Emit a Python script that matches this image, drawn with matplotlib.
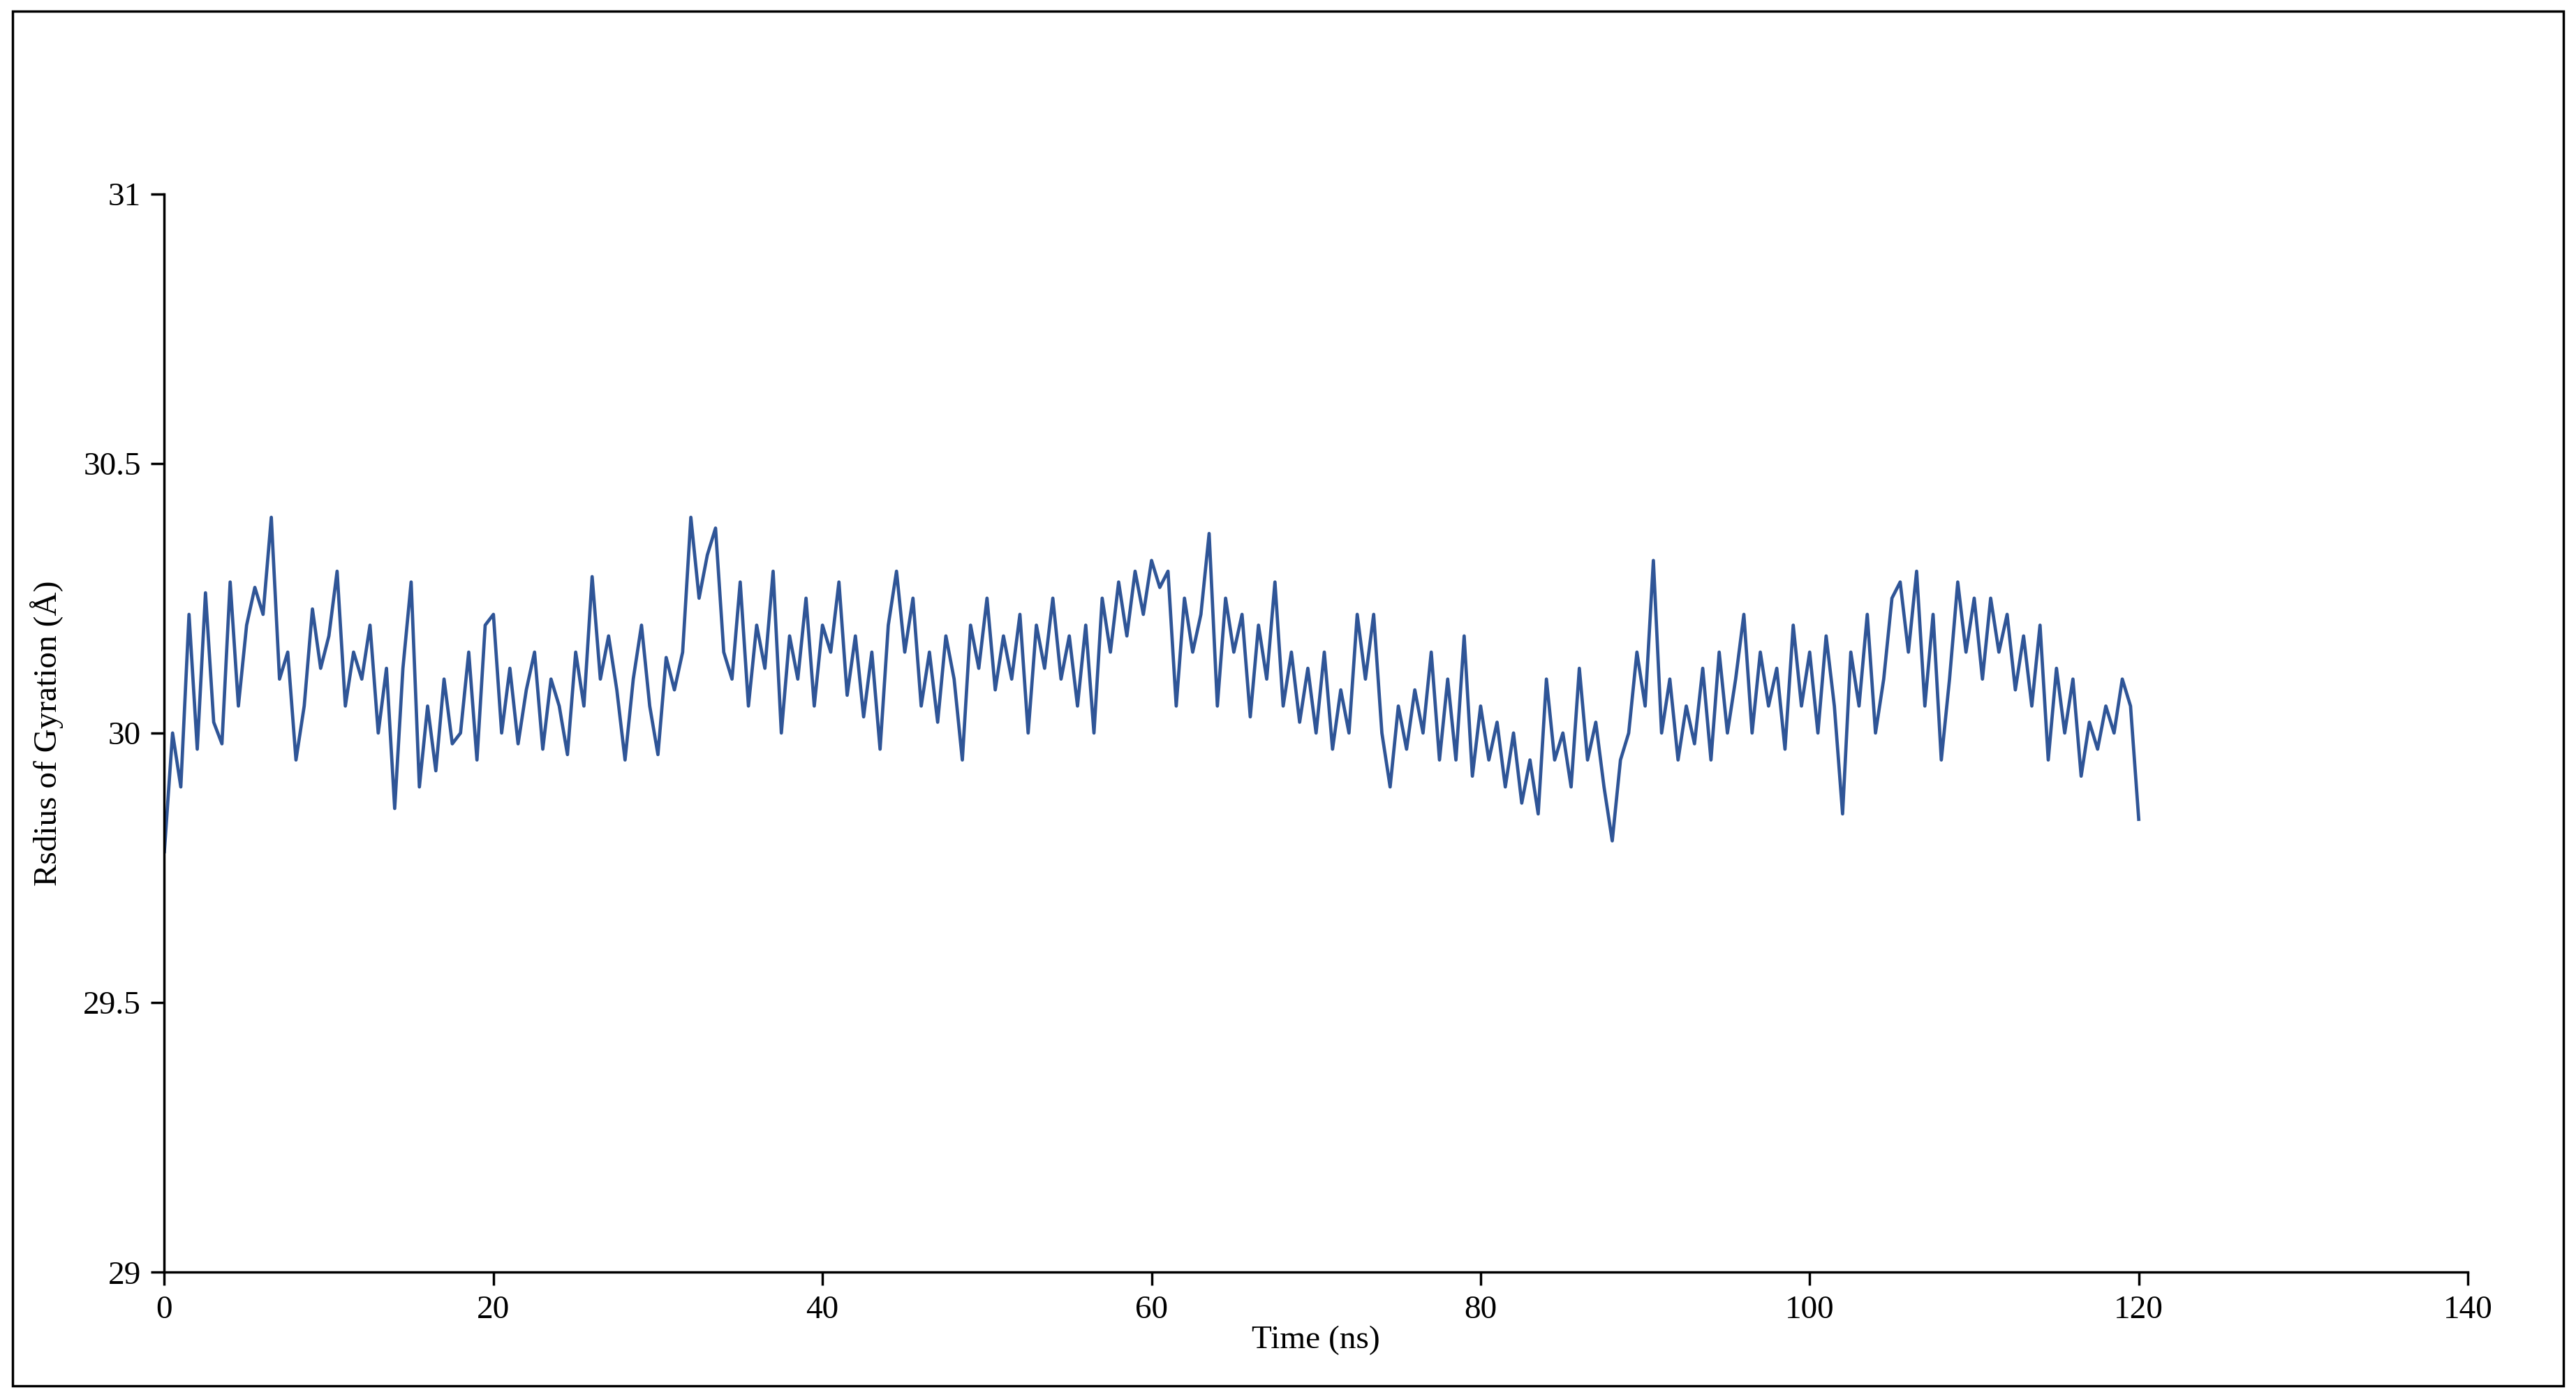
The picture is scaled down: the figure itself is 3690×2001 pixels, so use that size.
import numpy as np
import matplotlib
matplotlib.use("Agg")
import matplotlib.pyplot as plt
from matplotlib.patches import Rectangle

time_ns = np.arange(0, 120.01, 0.5)
rg = [
29.78,30.00,29.90,30.22,29.97,30.26,30.02,29.98,30.28,30.05,30.20,30.27,30.22,30.40,30.10,30.15,29.95,30.05,30.23,30.12,
30.18,30.30,30.05,30.15,30.10,30.20,30.00,30.12,29.86,30.12,30.28,29.90,30.05,29.93,30.10,29.98,30.00,30.15,29.95,30.20,
30.22,30.00,30.12,29.98,30.08,30.15,29.97,30.10,30.05,29.96,30.15,30.05,30.29,30.10,30.18,30.08,29.95,30.10,30.20,30.05,
29.96,30.14,30.08,30.15,30.40,30.25,30.33,30.38,30.15,30.10,30.28,30.05,30.20,30.12,30.30,30.00,30.18,30.10,30.25,30.05,
30.20,30.15,30.28,30.07,30.18,30.03,30.15,29.97,30.20,30.30,30.15,30.25,30.05,30.15,30.02,30.18,30.10,29.95,30.20,30.12,
30.25,30.08,30.18,30.10,30.22,30.00,30.20,30.12,30.25,30.10,30.18,30.05,30.20,30.00,30.25,30.15,30.28,30.18,30.30,30.22,
30.32,30.27,30.30,30.05,30.25,30.15,30.22,30.37,30.05,30.25,30.15,30.22,30.03,30.20,30.10,30.28,30.05,30.15,30.02,30.12,
30.00,30.15,29.97,30.08,30.00,30.22,30.10,30.22,30.00,29.90,30.05,29.97,30.08,30.00,30.15,29.95,30.10,29.95,30.18,29.92,
30.05,29.95,30.02,29.90,30.00,29.87,29.95,29.85,30.10,29.95,30.00,29.90,30.12,29.95,30.02,29.90,29.80,29.95,30.00,30.15,
30.05,30.32,30.00,30.10,29.95,30.05,29.98,30.12,29.95,30.15,30.00,30.10,30.22,30.00,30.15,30.05,30.12,29.97,30.20,30.05,
30.15,30.00,30.18,30.05,29.85,30.15,30.05,30.22,30.00,30.10,30.25,30.28,30.15,30.30,30.05,30.22,29.95,30.10,30.28,30.15,
30.25,30.10,30.25,30.15,30.22,30.08,30.18,30.05,30.20,29.95,30.12,30.00,30.10,29.92,30.02,29.97,30.05,30.00,30.10,30.05,
29.84]
x_ticks = [0, 20, 40, 60, 80, 100, 120, 140]
y_ticks = [29, 29.5, 30, 30.5, 31]
y_tick_labels = ["29", "29.5", "30", "30.5", "31"]

plt.rcParams['font.family'] = ['Liberation Serif', 'DejaVu Serif']
fig = plt.figure(figsize=(36.9, 20.01), dpi=100)
ax = fig.add_axes([0.0638, 0.0893, 0.8942, 0.772])
ax.plot(time_ns, rg, color="#2f5597", lw=3.4)
ax.set_xlim(0, 140)
ax.set_ylim(29, 31)
ax.set_xticks(x_ticks)
ax.set_yticks(y_ticks)
ax.set_yticklabels(y_tick_labels)
for s in ["top", "right"]:
    ax.spines[s].set_visible(False)
for s in ["left", "bottom"]:
    ax.spines[s].set_linewidth(2.5)
ax.tick_params(labelsize=34, width=2.5, length=14, direction="out", pad=10)
ax.set_xlabel("Time (ns)", fontsize=34, labelpad=0)
ax.set_ylabel("Rsdius of Gyration (Å)", fontsize=34, labelpad=20)
fig.patches.append(Rectangle((0.005, 0.008), 0.99, 0.984, transform=fig.transFigure,
                             fill=False, edgecolor="black", lw=2.5))
fig.savefig("out.png", dpi=100)
